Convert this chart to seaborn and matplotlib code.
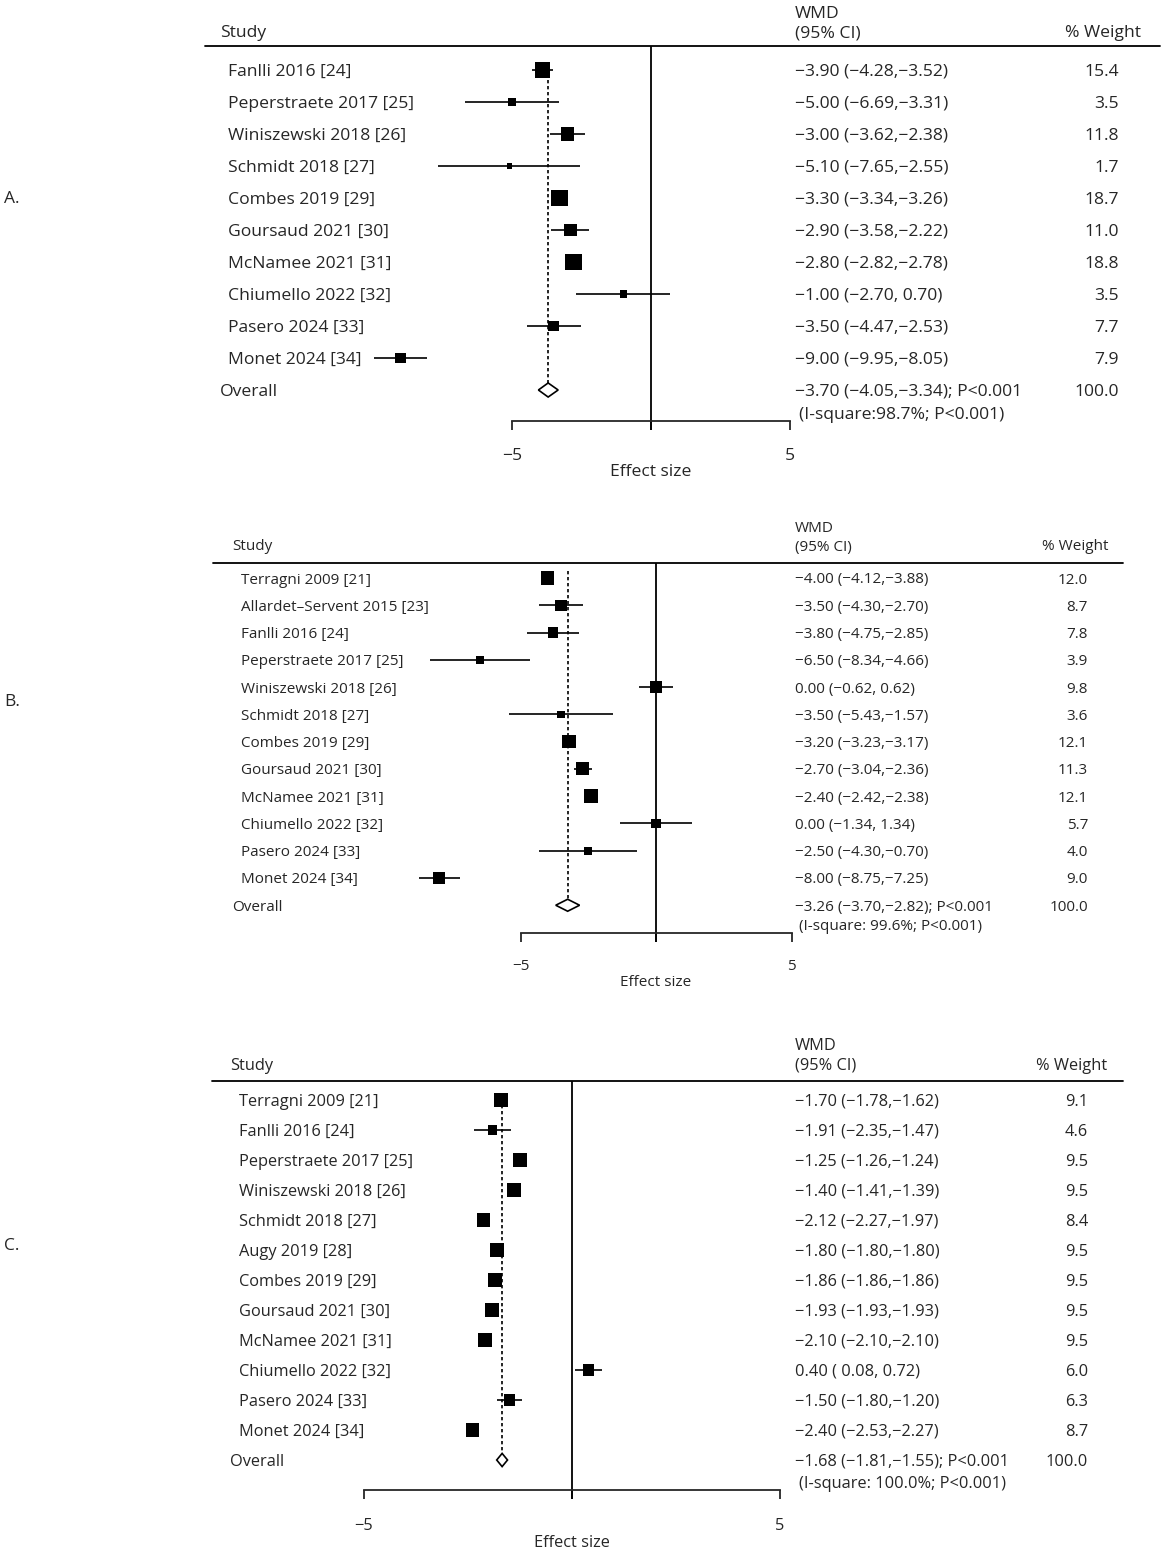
import matplotlib
matplotlib.use("Agg")
import matplotlib.pyplot as plt
import matplotlib.transforms as mtransforms
import seaborn as sns
import pandas as pd
import numpy as np

sns.set_style("white")
plt.rcParams['font.family'] = ['Open Sans', 'DejaVu Sans']

W, H = 1169, 1552

# --- Panel A data ---
studies_a = ["Fanlli 2016 [24]", "Peperstraete 2017 [25]", "Winiszewski 2018 [26]",
             "Schmidt 2018 [27]", "Combes 2019 [29]", "Goursaud 2021 [30]",
             "McNamee 2021 [31]", "Chiumello 2022 [32]", "Pasero 2024 [33]",
             "Monet 2024 [34]"]
wmd_a = [-3.90, -5.00, -3.00, -5.10, -3.30, -2.90, -2.80, -1.00, -3.50, -9.00]
lo_a = [-4.28, -6.69, -3.62, -7.65, -3.34, -3.58, -2.82, -2.70, -4.47, -9.95]
hi_a = [-3.52, -3.31, -2.38, -2.55, -3.26, -2.22, -2.78, 0.70, -2.53, -8.05]
weight_a = [15.4, 3.5, 11.8, 1.7, 18.7, 11.0, 18.8, 3.5, 7.7, 7.9]
overall_a = [-3.70, -4.05, -3.34]
isq_a = "(I-square:98.7%; P<0.001)"

# --- Panel B data ---
studies_b = ["Terragni 2009 [21]", "Allardet\u2013Servent 2015 [23]", "Fanlli 2016 [24]",
             "Peperstraete 2017 [25]", "Winiszewski 2018 [26]", "Schmidt 2018 [27]",
             "Combes 2019 [29]", "Goursaud 2021 [30]", "McNamee 2021 [31]",
             "Chiumello 2022 [32]", "Pasero 2024 [33]", "Monet 2024 [34]"]
wmd_b = [-4.00, -3.50, -3.80, -6.50, 0.00, -3.50, -3.20, -2.70, -2.40, 0.00, -2.50, -8.00]
lo_b = [-4.12, -4.30, -4.75, -8.34, -0.62, -5.43, -3.23, -3.04, -2.42, -1.34, -4.30, -8.75]
hi_b = [-3.88, -2.70, -2.85, -4.66, 0.62, -1.57, -3.17, -2.36, -2.38, 1.34, -0.70, -7.25]
weight_b = [12.0, 8.7, 7.8, 3.9, 9.8, 3.6, 12.1, 11.3, 12.1, 5.7, 4.0, 9.0]
overall_b = [-3.26, -3.70, -2.82]
isq_b = "(I-square: 99.6%; P<0.001)"

# --- Panel C data ---
studies_c = ["Terragni 2009 [21]", "Fanlli 2016 [24]", "Peperstraete 2017 [25]",
             "Winiszewski 2018 [26]", "Schmidt 2018 [27]", "Augy 2019 [28]",
             "Combes 2019 [29]", "Goursaud 2021 [30]", "McNamee 2021 [31]",
             "Chiumello 2022 [32]", "Pasero 2024 [33]", "Monet 2024 [34]"]
wmd_c = [-1.70, -1.91, -1.25, -1.40, -2.12, -1.80, -1.86, -1.93, -2.10, 0.40, -1.50, -2.40]
lo_c = [-1.78, -2.35, -1.26, -1.41, -2.27, -1.80, -1.86, -1.93, -2.10, 0.08, -1.80, -2.53]
hi_c = [-1.62, -1.47, -1.24, -1.39, -1.97, -1.80, -1.86, -1.93, -2.10, 0.72, -1.20, -2.27]
weight_c = [9.1, 4.6, 9.5, 9.5, 8.4, 9.5, 9.5, 9.5, 9.5, 6.0, 6.3, 8.7]
overall_c = [-1.68, -1.81, -1.55]
isq_c = "(I-square: 100.0%; P<0.001)"

MINUS = "\u2212"


def fmt(v, lead=False):
    s = f"{v: .2f}" if lead else f"{v:.2f}"
    return s.replace("-", MINUS)


def ci_text(m, lo, hi):
    lo_s = fmt(lo) if lo < 0 else fmt(lo, True)
    hi_s = fmt(hi) if hi < 0 else fmt(hi, True)
    return f"{fmt(m)} ({lo_s},{hi_s})"


# pixel layout of each panel
layouts = [
    dict(label="A.", label_y=197, top=0, bot=490, row0=70, dy=32, line_y=46, h1=12, h2=31,
         axis_y=421, tlab=455, eff=470, zero=651, ppu=27.8, sx=228, ox=220, hx=220,
         wx=795, wr=1119, whr=1141, lx0=205, lx1=1160, fs=12.6, box=3.9, pad=13),
    dict(label="B.", label_y=700, top=500, bot=1000, row0=578, dy=27.27, line_y=563, h1=527, h2=545,
         axis_y=933, tlab=965, eff=980, zero=656, ppu=27.1, sx=241, ox=232, hx=232,
         wx=795, wr=1088, whr=1108, lx0=213, lx1=1123, fs=11.0, box=3.9, pad=12),
    dict(label="C.", label_y=1244, top=1015, bot=1552, row0=1100, dy=30, line_y=1081, h1=1044, h2=1064,
         axis_y=1490, tlab=1525, eff=1541, zero=572, ppu=41.6, sx=239, ox=230, hx=230,
         wx=795, wr=1088, whr=1107, lx0=212, lx1=1123, fs=11.8, box=4.5, pad=14),
]
panels = [
    (studies_a, wmd_a, lo_a, hi_a, weight_a, overall_a, isq_a),
    (studies_b, wmd_b, lo_b, hi_b, weight_b, overall_b, isq_b),
    (studies_c, wmd_c, lo_c, hi_c, weight_c, overall_c, isq_c),
]

fig = plt.figure(figsize=(W / 100, H / 100), dpi=100)

for (studies, wmd, lo, hi, wts, ov, isq), L in zip(panels, layouts):
    ax = fig.add_axes([0, 1 - L["bot"] / H, 1, (L["bot"] - L["top"]) / H])
    ax.set_xlim(-L["zero"] / L["ppu"], (W - L["zero"]) / L["ppu"])
    r = lambda px: (px - L["row0"]) / L["dy"]
    ax.set_ylim(r(L["bot"]), r(L["top"]))
    tr = mtransforms.blended_transform_factory(ax.transAxes, ax.transData)
    toff = 2 / L["dy"]  # small downward nudge for text baselines
    fs = L["fs"]
    n = len(studies)
    df = pd.DataFrame({"study": studies, "wmd": wmd, "lo": lo, "hi": hi,
                       "weight": wts, "row": np.arange(n)})

    # CI lines and weighted boxes
    ax.hlines(df["row"], df["lo"], df["hi"], color="black", lw=1.2, zorder=2)
    area = (L["box"] * 0.72) ** 2
    wmax = max(wts)
    sns.scatterplot(data=df, x="wmd", y="row", size="weight", sizes=(0, area * wmax),
                    size_norm=(0, wmax), marker="s", color="black", linewidth=0,
                    legend=False, ax=ax, zorder=3)

    # overall diamond and dashed line
    orow = n
    ax.fill([ov[1], ov[0], ov[2], ov[0]], [orow, orow - 0.22, orow, orow + 0.22],
            facecolor="white", edgecolor="black", lw=1.2, zorder=3)
    ax.vlines(ov[0], -0.25, orow - 0.22, color="black", lw=1.2,
              linestyles=(0, (2, 1.6)), zorder=1)

    # null line
    ax.vlines(0, r(L["line_y"]), r(L["axis_y"] + 9), color="black", lw=1.3, zorder=1)

    # axis
    ax.spines[["top", "right", "left"]].set_visible(False)
    ax.spines["bottom"].set_position(("data", r(L["axis_y"])))
    ax.spines["bottom"].set_bounds(-5, 5)
    ax.spines["bottom"].set_linewidth(1.3)
    ax.set_xticks([-5, 0, 5])
    ax.set_xticklabels([MINUS + "5", "", "5"], fontsize=fs)
    ax.tick_params(axis="x", direction="out", length=6.5, width=1.3, pad=L["pad"], bottom=True)
    ax.set_yticks([])
    ax.set_xlabel("")
    ax.set_ylabel("")
    ax.patch.set_alpha(0)
    ax.text(0, r(L["eff"] + 2), "Effect size", ha="center", va="center", fontsize=fs)

    # header
    ax.plot([L["lx0"] / W, L["lx1"] / W], [r(L["line_y"])] * 2, color="black", lw=1.3,
            transform=tr, clip_on=False)
    ax.text(L["hx"] / W, r(L["h2"] + 2), "Study", transform=tr, va="center", fontsize=fs)
    ax.text(L["wx"] / W, r(L["h1"] + 2), "WMD", transform=tr, va="center", fontsize=fs)
    ax.text(L["wx"] / W, r(L["h2"] + 2), "(95% CI)", transform=tr, va="center", fontsize=fs)
    ax.text(L["whr"] / W, r(L["h2"] + 2), "% Weight", transform=tr, va="center", ha="right",
            fontsize=fs)

    # rows text
    for i in range(n):
        ax.text(L["sx"] / W, i + toff, studies[i], transform=tr, va="center", fontsize=fs)
        ax.text(L["wx"] / W, i + toff, ci_text(wmd[i], lo[i], hi[i]), transform=tr,
                va="center", fontsize=fs)
        ax.text(L["wr"] / W, i + toff, f"{wts[i]:.1f}", transform=tr, va="center", ha="right",
                fontsize=fs)
    ax.text(L["ox"] / W, orow + toff, "Overall", transform=tr, va="center", fontsize=fs)
    ax.text(L["wx"] / W, orow + toff, ci_text(ov[0], ov[1], ov[2]) + "; P<0.001", transform=tr,
            va="center", fontsize=fs)
    ax.text((L["wx"] + 4) / W, orow + 0.72 + toff, isq, transform=tr, va="center", fontsize=fs)
    ax.text(L["wr"] / W, orow + toff, "100.0", transform=tr, va="center", ha="right", fontsize=fs)

    fig.text(4 / W, 1 - (L["label_y"] + 2) / H, L["label"], va="center", fontsize=12.5)

fig.savefig("out.png", dpi=100, facecolor="white")
